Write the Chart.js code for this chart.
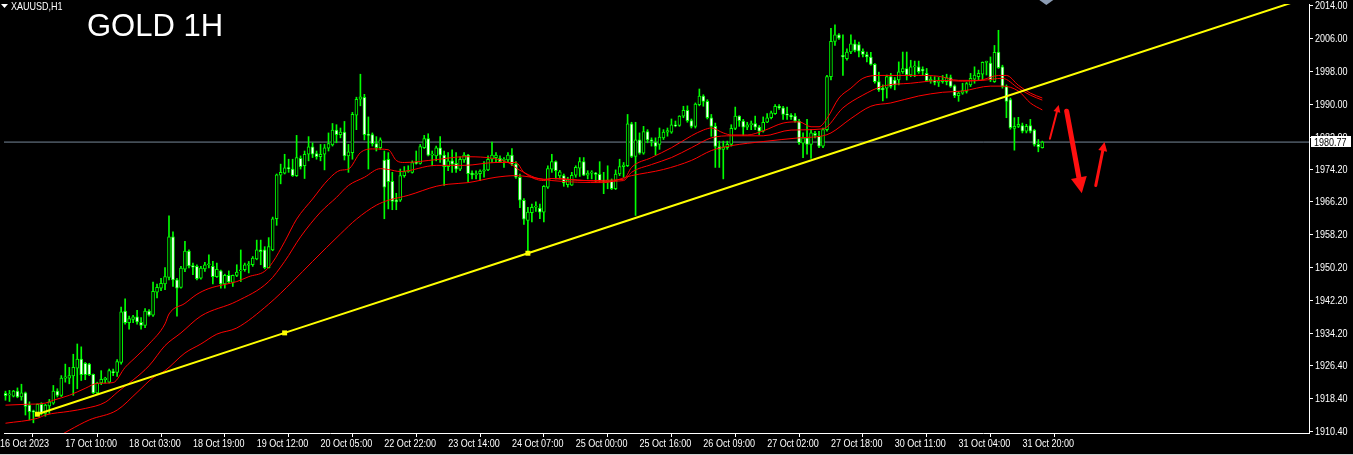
<!DOCTYPE html>
<html>
<head>
<meta charset="utf-8">
<title>GOLD 1H</title>
<script src="https://cdn.jsdelivr.net/npm/chart.js@4.4.0/dist/chart.umd.min.js"></script>
<style>
  body { margin: 0; background: #000; }
  #wrap { position: relative; width: 1353px; height: 455px; overflow: hidden; background: #000; }
  #chart { position: absolute; left: 0; top: 0; }
  #sym { position: absolute; left: 11px; top: 1px; color: #fff; font: 11px/11px 'Liberation Sans', Arial, sans-serif; white-space: nowrap; transform: scaleX(0.82); transform-origin: 0 0; }
  #title { position: absolute; left: 87px; top: 10px; color: #fff; font: 31px/31px 'Liberation Sans', Arial, sans-serif; white-space: nowrap; }
</style>
</head>
<body>
<div id="wrap">
  <canvas id="chart" width="1353" height="455"></canvas>
  <div id="sym">XAUUSD,H1</div>
  <div id="title">GOLD 1H</div>
</div>
<script>
// XAUUSD H1 candles (one per bar, left to right)
const opens = [
  1919.6,1919.2,1918.9,1920.1,1918.7,1919.7,1916.7,1915.3,1914.7,1916.9,
  1914.7,1916.5,1917.2,1920.1,1919.1,1923.3,1923.3,1923.8,1925.7,1927.9,
  1926.9,1926.7,1924.2,1919.7,1922.1,1922.9,1922.3,1924.9,1924.7,1927.1,
  1939.6,1936.8,1937.6,1938.2,1936.9,1936.1,1939.6,1938.6,1944.2,1945.2,
  1946.2,1947.8,1957.7,1947.2,1945.4,1949.8,1954.2,1950.7,1950.5,1947.6,
  1949.9,1950.9,1950.5,1948.0,1949.4,1946.2,1948.3,1946.6,1948.3,1949.4,
  1949.7,1950.8,1950.9,1952.3,1954.5,1954.5,1950.2,1954.5,1962.1,1972.7,
  1973.2,1974.5,1974.2,1972.6,1976.8,1975.0,1977.8,1979.6,1978.0,1977.2,
  1977.8,1979.3,1980.1,1983.7,1982.6,1983.2,1977.4,1978.2,1987.3,1991.2,
  1991.7,1982.6,1982.6,1980.4,1979.4,1976.4,1976.6,1971.2,1966.7,1966.6,
  1972.6,1973.6,1973.4,1975.8,1975.6,1979.4,1981.6,1977.6,1977.4,1979.4,
  1977.6,1974.8,1976.2,1975.6,1974.2,1976.4,1977.6,1973.2,1972.8,1973.1,
  1973.7,1974.0,1976.6,1977.0,1976.8,1976.3,1976.4,1977.6,1975.4,1972.2,
  1966.6,1961.7,1963.6,1964.9,1964.7,1963.7,1969.8,1974.2,1976.0,1972.5,
  1972.6,1970.4,1970.3,1972.7,1974.4,1976.0,1972.7,1973.2,1973.2,1972.9,
  1971.4,1971.2,1971.4,1969.4,1973.0,1974.8,1975.0,1985.2,1977.3,1981.3,
  1978.1,1983.3,1981.3,1980.8,1980.2,1981.8,1983.2,1983.2,1985.0,1984.8,
  1987.1,1988.5,1986.0,1984.6,1989.9,1992.0,1990.7,1986.7,1984.6,1979.7,
  1979.0,1979.4,1980.2,1984.1,1987.1,1985.9,1984.4,1985.0,1985.3,1984.4,
  1983.4,1985.6,1986.7,1987.7,1989.5,1989.1,1987.6,1987.3,1987.1,1985.9,
  1980.5,1981.8,1980.2,1982.9,1982.2,1979.8,1983.8,1996.7,2005.3,2006.9,
  2001.9,2001.1,2002.7,2004.7,2004.5,2002.9,2002.1,2001.5,1999.7,1995.5,
  1993.9,1993.9,1996.7,1995.9,1995.9,1997.9,1998.7,1997.1,1999.1,1999.1,
  1998.5,1997.5,1995.7,1995.7,1995.3,1995.5,1995.5,1996.5,1994.5,1992.1,
  1992.7,1993.1,1994.7,1996.1,1996.7,1997.3,2000.2,2000.0,1995.5,2002.7,
  1999.1,1994.3,1991.1,1984.1,1984.6,1984.8,1983.4,1984.8,1983.7,1980.2,
  1979.4
]
const highs = [
  1920.1,1920.3,1920.3,1920.9,1921.8,1919.9,1917.5,1915.5,1917.0,1917.3,
  1916.9,1918.1,1921.5,1920.7,1923.9,1926.7,1925.9,1929.1,1931.6,1930.9,
  1927.1,1926.9,1924.3,1922.3,1925.1,1923.5,1925.5,1925.5,1927.8,1940.6,
  1942.6,1938.4,1938.6,1939.8,1938.0,1940.2,1940.0,1946.7,1946.2,1947.6,
  1950.2,1962.8,1958.9,1947.6,1950.5,1956.6,1954.5,1951.3,1950.9,1950.5,
  1951.5,1953.3,1951.7,1951.3,1949.6,1948.6,1949.4,1948.4,1950.9,1954.5,
  1951.3,1951.7,1952.9,1956.9,1956.9,1955.3,1957.5,1962.5,1973.0,1975.4,
  1977.8,1976.6,1976.6,1982.4,1977.4,1978.6,1982.1,1980.6,1978.6,1980.2,
  1980.2,1983.0,1985.3,1985.0,1984.2,1985.8,1980.2,1988.0,1991.7,1997.3,
  1992.4,1986.9,1983.0,1982.1,1981.8,1978.6,1978.2,1973.4,1968.3,1974.2,
  1974.8,1975.0,1976.2,1978.6,1980.2,1982.4,1982.8,1978.6,1979.8,1982.1,
  1978.6,1978.2,1978.9,1978.2,1977.2,1978.2,1977.8,1973.8,1973.8,1974.0,
  1976.0,1977.4,1980.8,1978.2,1977.4,1977.0,1978.2,1979.2,1976.0,1973.0,
  1967.0,1964.9,1965.7,1966.2,1965.7,1970.2,1975.0,1977.8,1976.2,1973.9,
  1973.0,1972.2,1973.4,1975.0,1977.0,1977.0,1973.8,1973.8,1973.4,1976.0,
  1973.4,1975.0,1971.8,1974.0,1976.6,1975.8,1987.5,1985.6,1985.6,1983.0,
  1984.6,1983.8,1981.8,1981.8,1984.2,1983.8,1984.2,1986.4,1985.9,1987.2,
  1989.5,1989.6,1986.4,1990.3,1993.7,1992.3,1991.1,1987.5,1985.4,1981.0,
  1981.0,1981.0,1985.0,1989.3,1987.2,1986.3,1985.6,1985.9,1987.1,1984.8,
  1986.9,1987.7,1988.3,1989.9,1989.9,1989.5,1989.3,1987.7,1987.7,1986.3,
  1983.0,1986.3,1983.8,1983.4,1983.4,1984.2,1997.0,2008.5,2009.3,2007.2,
  2006.9,2003.5,2006.9,2005.6,2005.1,2003.5,2002.7,2002.6,1999.9,1997.8,
  1994.7,1997.1,1997.5,1996.5,2000.3,2002.7,2002.7,2000.7,2000.5,2000.5,
  1999.1,1998.7,1996.7,1996.7,1996.5,1997.0,1997.3,1997.1,1994.7,1993.1,
  1995.1,1995.3,1997.5,1999.1,1998.3,2000.3,2000.5,2001.5,2004.3,2008.0,
  1999.5,1994.7,1991.5,1986.7,1986.8,1985.4,1985.1,1986.3,1983.9,1981.4,
  1981.0
]
const lows = [
  1917.9,1917.6,1918.7,1918.5,1917.9,1914.3,1913.1,1912.4,1914.3,1914.3,
  1914.0,1914.7,1916.9,1918.7,1918.8,1922.3,1921.9,1919.1,1920.7,1922.7,
  1922.9,1923.9,1919.5,1919.4,1921.7,1922.1,1922.1,1923.9,1923.7,1926.7,
  1936.4,1935.2,1936.8,1936.4,1935.2,1935.6,1938.4,1938.3,1942.8,1944.6,
  1944.8,1947.2,1945.6,1938.4,1945.2,1949.2,1950.1,1948.5,1947.2,1947.4,
  1949.3,1950.1,1946.2,1947.8,1945.2,1945.2,1946.4,1945.6,1948.0,1946.8,
  1949.3,1948.9,1950.5,1952.1,1950.9,1949.9,1950.1,1954.3,1960.5,1970.6,
  1973.0,1973.4,1972.4,1972.4,1974.2,1971.9,1976.2,1977.0,1976.6,1976.2,
  1974.0,1978.6,1979.8,1980.6,1981.8,1976.4,1973.4,1976.6,1983.8,1989.6,
  1981.3,1974.2,1979.8,1978.6,1979.0,1962.1,1964.5,1964.3,1964.3,1966.3,
  1972.2,1973.4,1973.2,1975.4,1975.4,1979.2,1977.4,1975.0,1976.2,1975.8,
  1970.2,1973.8,1973.4,1973.4,1973.8,1975.8,1971.1,1971.8,1971.8,1971.4,
  1972.2,1973.8,1975.8,1975.8,1975.8,1974.6,1975.8,1975.0,1971.9,1964.8,
  1960.7,1953.7,1961.3,1963.9,1962.1,1961.3,1969.5,1973.4,1971.8,1971.8,
  1970.0,1969.8,1970.2,1972.2,1972.4,1972.6,1971.8,1971.8,1971.0,1971.0,
  1968.2,1969.4,1969.2,1969.2,1972.6,1972.2,1974.8,1977.0,1962.9,1977.8,
  1977.8,1980.6,1979.8,1977.6,1979.0,1981.4,1982.2,1982.9,1984.5,1984.6,
  1986.7,1985.6,1984.2,1984.2,1989.6,1989.5,1986.4,1982.2,1974.6,1974.6,
  1971.8,1979.0,1979.8,1983.8,1984.6,1982.4,1983.8,1983.8,1983.8,1982.6,
  1983.2,1985.5,1986.4,1987.5,1988.7,1986.3,1986.3,1986.3,1985.6,1980.2,
  1977.0,1977.8,1976.8,1981.8,1979.4,1979.4,1983.4,1995.9,2004.3,2005.8,
  1997.0,2000.7,2002.3,2002.7,2001.5,2001.5,2000.3,1999.5,1995.1,1993.1,
  1990.8,1991.5,1993.9,1993.5,1994.7,1997.5,1995.9,1996.7,1996.7,1997.5,
  1997.1,1995.5,1995.1,1994.7,1994.3,1995.1,1994.7,1994.1,1991.6,1990.7,
  1992.4,1992.7,1994.3,1995.1,1995.9,1995.9,1997.1,1995.5,1995.3,1998.7,
  1993.9,1986.7,1983.9,1978.8,1984.3,1983.0,1983.0,1983.0,1979.8,1978.4,
  1979.3
]
const closes = [
  1919.0,1919.4,1920.1,1918.7,1919.7,1916.4,1915.1,1915.0,1916.9,1914.7,
  1916.7,1917.5,1920.1,1919.1,1923.3,1923.6,1923.9,1925.9,1927.9,1924.1,
  1924.1,1924.1,1919.7,1922.1,1923.0,1923.3,1925.1,1924.6,1927.3,1939.4,
  1936.8,1937.8,1938.2,1937.0,1936.1,1939.6,1938.6,1944.4,1945.4,1946.4,
  1948.0,1957.7,1947.2,1945.2,1950.1,1954.2,1950.6,1950.3,1947.5,1950.1,
  1950.9,1951.0,1948.0,1949.8,1946.2,1948.3,1946.7,1948.3,1949.1,1949.6,
  1950.9,1951.1,1952.5,1954.5,1954.1,1950.2,1955.3,1962.1,1972.8,1973.4,
  1974.5,1974.3,1972.6,1977.0,1974.8,1977.8,1979.6,1977.8,1977.2,1977.8,
  1979.4,1980.4,1983.7,1982.6,1983.2,1977.4,1978.4,1987.5,1991.2,1991.8,
  1982.6,1982.4,1980.4,1979.4,1981.3,1969.8,1971.1,1966.3,1966.2,1972.6,
  1973.6,1973.9,1975.8,1975.6,1979.7,1981.6,1977.6,1977.8,1979.4,1977.6,
  1974.8,1976.2,1975.4,1974.2,1976.6,1977.6,1973.1,1972.8,1973.1,1973.7,
  1974.0,1976.6,1977.6,1977.6,1976.0,1976.6,1977.6,1975.4,1972.2,1966.6,
  1962.0,1963.7,1964.9,1965.2,1963.7,1970.0,1974.3,1976.0,1973.8,1973.5,
  1970.8,1971.6,1972.7,1974.6,1976.0,1972.7,1973.2,1973.4,1972.9,1971.3,
  1971.2,1971.4,1969.4,1973.0,1974.8,1975.2,1985.2,1977.3,1981.3,1978.1,
  1983.3,1981.3,1981.0,1979.7,1982.0,1983.2,1983.6,1985.0,1984.7,1987.1,
  1988.5,1986.0,1984.6,1990.0,1992.0,1990.7,1986.7,1984.6,1979.7,1979.0,
  1979.6,1980.2,1984.1,1987.1,1986.0,1984.4,1985.0,1985.3,1984.4,1983.4,
  1985.6,1986.7,1987.9,1989.5,1989.1,1987.5,1987.3,1986.9,1985.9,1980.6,
  1981.8,1980.2,1983.0,1982.4,1979.8,1983.8,1996.7,2005.3,2006.9,2006.1,
  2001.5,2002.7,2004.7,2003.1,2002.9,2002.1,2001.5,1999.7,1995.5,1993.5,
  1993.5,1996.7,1994.3,1994.7,1997.9,1998.7,1997.1,1999.1,1999.3,1997.9,
  1998.1,1995.7,1996.1,1995.3,1995.5,1995.9,1996.5,1994.3,1992.1,1992.7,
  1993.3,1995.0,1996.3,1997.1,1997.5,2000.2,2000.4,1995.9,2002.6,1998.9,
  1994.3,1990.7,1984.3,1984.6,1985.1,1983.4,1984.6,1983.4,1980.2,1979.6,
  1980.77
]

// time axis: one label every 16 bars (the first one sits just off the left edge)
const xTickIdx = [-1.4, 15, 31, 47, 63, 79, 95, 111, 127, 143, 159, 175, 191, 207, 223, 239, 255]
const xTickText = ['16 Oct 2023', '17 Oct 10:00', '18 Oct 03:00', '18 Oct 19:00', '19 Oct 12:00', '20 Oct 05:00',
  '22 Oct 22:00', '23 Oct 14:00', '24 Oct 07:00', '25 Oct 00:00', '25 Oct 16:00', '26 Oct 09:00',
  '27 Oct 02:00', '27 Oct 18:00', '30 Oct 11:00', '31 Oct 04:00', '31 Oct 20:00']
const yTickVals = [2014, 2006, 1998, 1990, 1982, 1974.2, 1966.2, 1958.2, 1950.2, 1942.2, 1934.2, 1926.4, 1918.4, 1910.4]

// the three red moving averages (bar index, price)
const fastIdx = [0,5,10,12,16,20,23,27,30,33,36,40,41,45,48,51,55,58,61,65,67,70,73,77,81,84,86,89,92,96,98,100,108,115,126,129,135,137,145,155,157,162,167,172,175,177,180,182,186,190,195,199,202,204,206,209,212,215,219,224,229,234,239,244,249,251,254,257,260]
const fastVal = [1916.7,1916.9,1917.2,1917.9,1919.1,1920.8,1922.0,1922.2,1925.9,1928.7,1931.6,1936.5,1938.9,1941.5,1943.7,1945.1,1946.1,1946.8,1948.0,1949.3,1951.5,1956.5,1962.0,1966.9,1971.7,1973.9,1974.2,1978.2,1979.1,1978.9,1976.3,1975.8,1976.5,1977.2,1975.8,1973.9,1971.7,1971.9,1971.4,1971.7,1974.6,1977.0,1979.4,1982.3,1983.7,1984.2,1983.0,1982.5,1982.5,1983.5,1985.4,1985.7,1984.5,1984.5,1986.5,1991.5,1993.9,1996.3,1997.0,1997.0,1997.0,1996.8,1995.8,1995.8,1997.0,1997.0,1994.6,1992.7,1991.5]
const midIdx = [0,8,10,16,20,25,28,36,40,44,49,58,66,70,74,79,83,86,90,94,96,99,108,115,123,128,130,135,137,150,155,157,162,167,172,177,182,190,197,205,210,215,220,227,235,240,245,250,254,257,260]
const midVal = [1912.3,1913.5,1914.3,1915.2,1915.9,1917.4,1919.8,1926.3,1931.2,1934.3,1938.4,1942.0,1946.8,1951.7,1957.7,1963.7,1967.3,1970.2,1972.2,1974.3,1974.1,1973.6,1975.1,1975.1,1975.8,1975.8,1973.4,1971.4,1971.9,1971.2,1971.4,1973.4,1975.3,1977.0,1979.4,1981.8,1982.3,1982.3,1983.7,1984.0,1989.1,1992.2,1994.4,1995.1,1995.8,1995.6,1995.8,1996.3,1993.9,1992.2,1991.0]
const slowIdx = [14,16,21,28,33,37,40,45,49,53,58,66,72,77,84,88,93,96,101,108,111,116,123,128,135,137,150,157,165,172,177,182,190,199,205,207,212,217,222,229,235,240,247,250,254,257,260]
const slowVal = [1909.5,1910.6,1913.1,1915.5,1919.8,1923.4,1925.1,1929.4,1931.6,1934.0,1935.5,1941.3,1946.8,1951.7,1958.4,1962.0,1965.4,1966.6,1967.8,1970.0,1970.5,1970.9,1972.2,1972.6,1971.7,1971.4,1970.9,1972.6,1974.1,1976.3,1978.7,1979.9,1980.9,1981.8,1982.3,1983.0,1986.5,1989.5,1990.3,1992.0,1992.9,1993.2,1994.4,1994.4,1993.2,1990.3,1988.6]

// yellow trend line through three lows, running off the top
const trendIdx = [8, 70, 131, 330]
const trendVal = [1914.5, 1934.3, 1953.7, 2017.1]

const lastPrice = 1980.77

var labelFont = "11px 'Liberation Sans', Arial, sans-serif"
var squeeze = 0.82

// hand drawn red arrows, in (bar, price)
var notes = [
  {from: [261.9, 1981.6], to: [264.1, 1989.8], w: 2, head: 7},
  {from: [266.1, 1988.3], to: [269.9, 1968.3], w: 5, head: 16},
  {from: [273.4, 1970.2], to: [275.6, 1980.8], w: 3, head: 9}
]

function pts(idx, vals) {
  return idx.map((x, k) => ({x: x, y: vals[k]}))
}

var wickData = highs.map((h, i) => ({x: i, y: [lows[i], h]}))
var bodyData = opens.map((o, i) => ({x: i, y: [o, closes[i]]}))
var bodyColors = opens.map((o, i) => closes[i] >= o ? '#000000' : '#ffffff')

function arrow(c, x1, y1, x2, y2, w, head) {
  var a = Math.atan2(y2 - y1, x2 - x1)
  var bx = x2 - head * Math.cos(a), by = y2 - head * Math.sin(a)
  c.lineWidth = w
  c.beginPath(); c.moveTo(x1, y1); c.lineTo(bx, by); c.stroke()
  c.beginPath()
  c.moveTo(x2, y2)
  c.lineTo(bx + head * 0.5 * Math.sin(a), by - head * 0.5 * Math.cos(a))
  c.lineTo(bx - head * 0.5 * Math.sin(a), by + head * 0.5 * Math.cos(a))
  c.closePath(); c.fill()
}

// MT4 axis font is narrow, so labels are drawn squeezed at the tick positions
function narrowText(c, s, x, y) {
  c.save()
  c.translate(x, y)
  c.scale(squeeze, 1)
  c.fillText(s, 0, 0)
  c.restore()
}

var extras = {
  id: 'extras',
  afterDatasetsDraw(chart) {
    var c = chart.ctx, x = chart.scales.x, y = chart.scales.y
    c.save()
    c.strokeStyle = '#ff1010'
    c.fillStyle = '#ff1010'
    c.lineCap = 'round'
    notes.forEach(function(n) {
      arrow(c, x.getPixelForValue(n.from[0]), y.getPixelForValue(n.from[1]),
        x.getPixelForValue(n.to[0]), y.getPixelForValue(n.to[1]), n.w, n.head)
    })
    // chart shift marker
    var sx = x.getPixelForValue(261)
    c.fillStyle = '#8c9cb4'
    c.beginPath(); c.moveTo(sx - 7, 0); c.lineTo(sx + 7, 0); c.lineTo(sx, 5); c.closePath(); c.fill()
    c.restore()
  },
  afterDraw(chart) {
    var c = chart.ctx, x = chart.scales.x, y = chart.scales.y, area = chart.chartArea
    c.save()
    c.font = labelFont
    c.fillStyle = '#ffffff'
    c.textAlign = 'left'
    c.textBaseline = 'alphabetic'
    x.ticks.forEach(function(t, i) {
      narrowText(c, xTickText[i], x.getPixelForValue(t.value), area.bottom + 14)
    })
    c.textBaseline = 'middle'
    y.ticks.forEach(function(t) {
      narrowText(c, t.value.toFixed(2), area.right + 6, y.getPixelForValue(t.value) + 0.5)
    })
    var py = y.getPixelForValue(lastPrice)
    c.fillStyle = '#ffffff'
    c.fillRect(area.right + 2, Math.round(py) - 6, 40, 11)
    c.fillStyle = '#000000'
    narrowText(c, lastPrice.toFixed(2), area.right + 5, py + 0.5)
    // little menu triangle before the symbol name
    c.fillStyle = '#ffffff'
    c.beginPath(); c.moveTo(1, 4); c.lineTo(8, 4); c.lineTo(4.5, 8); c.closePath(); c.fill()
    c.fillStyle = '#d0d0d0'
    c.fillRect(0, 454, 1353, 1)
    c.restore()
  }
}

var axisGrid = {display: true, drawOnChartArea: false, drawTicks: true, tickLength: 4, color: '#ffffff'}
var axisBorder = {display: true, color: '#ffffff', width: 1}

var ctx = document.getElementById('chart').getContext('2d')
new Chart(ctx, {
  type: 'bar',
  data: {
    datasets: [
      {type: 'line', data: pts(trendIdx, trendVal), borderColor: '#ffff00', borderWidth: 2,
        pointStyle: 'rect', pointRadius: [3.5, 3.5, 3.5, 0], pointBackgroundColor: '#ffff00', pointBorderWidth: 0, order: 0},
      {type: 'line', data: pts(fastIdx, fastVal), borderColor: '#ff0000', borderWidth: 1, pointRadius: 0, cubicInterpolationMode: 'monotone', order: 1},
      {type: 'line', data: pts(midIdx, midVal), borderColor: '#ff0000', borderWidth: 1, pointRadius: 0, cubicInterpolationMode: 'monotone', order: 1},
      {type: 'line', data: pts(slowIdx, slowVal), borderColor: '#ff0000', borderWidth: 1, pointRadius: 0, cubicInterpolationMode: 'monotone', order: 1},
      {data: bodyData, backgroundColor: bodyColors, borderColor: '#00ff00', borderWidth: 1, borderSkipped: false,
        barThickness: 3, minBarLength: 1, grouped: false, order: 3},
      {data: wickData, backgroundColor: '#00ff00', borderWidth: 0, barThickness: 1, grouped: false, order: 4},
      {type: 'line', data: [{x: -1, y: lastPrice}, {x: 330, y: lastPrice}], borderColor: '#778899', borderWidth: 1, pointRadius: 0, order: 5}
    ]
  },
  options: {
    responsive: false,
    animation: false,
    events: [],
    layout: {padding: 0},
    plugins: {legend: {display: false}, tooltip: {enabled: false}},
    scales: {
      x: {
        type: 'linear', min: -0.375, max: 326.875, offset: false,
        afterBuildTicks: function(axis) { axis.ticks = xTickIdx.map(v => ({value: v})) },
        afterFit: function(axis) { axis.height = 22; axis.paddingLeft = 0; axis.paddingRight = 0 },
        grid: axisGrid,
        border: axisBorder,
        ticks: {display: false, autoSkip: false, maxRotation: 0}
      },
      y: {
        type: 'linear', position: 'right', min: 1909.92, max: 2014.4,
        afterBuildTicks: function(axis) { axis.ticks = yTickVals.map(v => ({value: v})) },
        afterFit: function(axis) { axis.width = 44; axis.paddingTop = 0; axis.paddingBottom = 0 },
        grid: axisGrid,
        border: axisBorder,
        ticks: {display: false, autoSkip: false}
      }
    }
  },
  plugins: [extras]
})
</script>
</body>
</html>
